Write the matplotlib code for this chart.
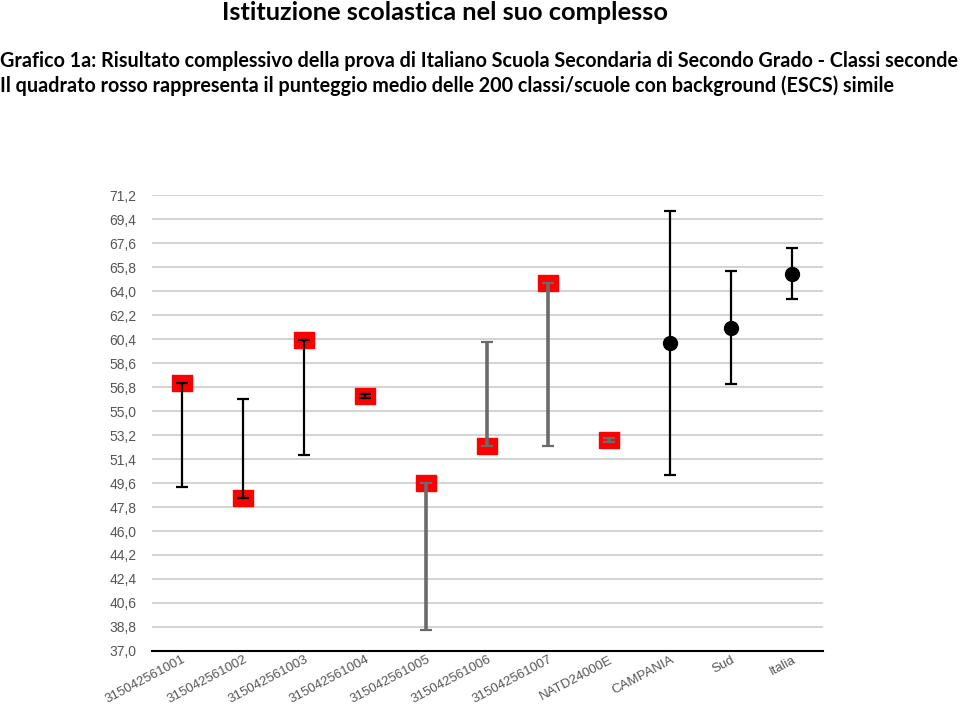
import numpy as np
import matplotlib
matplotlib.use('Agg')
from matplotlib import pyplot as plt

# dati
categorie = ['315042561001', '315042561002', '315042561003', '315042561004',
             '315042561005', '315042561006', '315042561007', 'NATD24000E',
             'CAMPANIA', 'Sud', 'Italia']
punto = [57.1, 48.5, 60.3, 56.1, 49.6, 52.4, 64.6, 52.8, 60.1, 61.2, 65.3]
basso = [49.3, 48.5, 51.7, 55.95, 38.6, 52.4, 52.4, 52.65, 50.2, 57.0, 63.4]
alto = [57.1, 55.9, 60.3, 56.25, 49.6, 60.2, 64.6, 52.95, 70.0, 65.5, 67.2]
tipo = ['q'] * 8 + ['c'] * 3   # q = quadrato rosso, c = cerchio nero
colore_barra = ['black', 'black', 'black', 'black',
                '#6b6b6b', '#6b6b6b', '#6b6b6b', '#6b6b6b',
                'black', 'black', 'black']

yticks = np.round(np.arange(37.0, 71.3, 1.8), 1)
ytick_labels = [f'{t:.1f}'.replace('.', ',') for t in yticks]

fig = plt.figure(figsize=(9.6, 7.11), dpi=100)
ax = fig.add_axes([0.158, 0.0844, 0.699, 0.6413])

x = np.arange(len(categorie))
rett = [(-1.25, -1), (1.25, -1), (1.25, 1), (-1.25, 1), (-1.25, -1)]

for i in range(len(categorie)):
    if tipo[i] == 'q':
        ax.plot(x[i], punto[i], marker=rett, markersize=14.5, color='#ff0000',
                markeredgecolor='#ff0000', linestyle='none', zorder=3)
    else:
        ax.plot(x[i], punto[i], marker='o', markersize=10, color='black',
                linestyle='none', zorder=5)
    mid = (alto[i] + basso[i]) / 2
    err = (alto[i] - basso[i]) / 2
    lw = 2.6 if colore_barra[i] != 'black' else 1.6
    _, caps, _ = ax.errorbar(x[i], mid, yerr=err, fmt='none', ecolor=colore_barra[i],
                             elinewidth=lw, capsize=4, capthick=1.6, zorder=4)
    for c in caps:
        c.set_color('#222222')

ax.set_xlim(-0.5, len(categorie) - 0.5)
ax.set_ylim(37.0, 71.2)
ax.set_yticks(yticks)
ax.set_yticklabels(ytick_labels, fontsize=10, color='#555555', family='Liberation Sans')
ax.set_xticks(x)
ax.set_xticklabels(categorie, rotation=28, ha='right', rotation_mode='anchor',
                   fontsize=9.5, color='#555555', family='Liberation Sans')
ax.tick_params(axis='y', length=0, pad=11)
ax.tick_params(axis='x', length=0, pad=2)

ax.grid(axis='y', color='#cccccc', linewidth=1.2)
ax.set_axisbelow(True)
for s in ['top', 'right', 'left']:
    ax.spines[s].set_visible(False)
ax.spines['bottom'].set_linewidth(1.5)
ax.spines['bottom'].set_color('black')

font_titoli = ['Lato', 'DejaVu Sans']
fig.text(0.4635, 0.983, 'Istituzione scolastica nel suo complesso', ha='center', va='center',
         fontsize=18.3, fontweight='bold', family=font_titoli)
fig.text(0.0, 0.914, 'Grafico 1a: Risultato complessivo della prova di Italiano Scuola Secondaria di Secondo Grado - Classi seconde',
         ha='left', va='center', fontsize=14.2, fontweight='bold', family=font_titoli)
fig.text(0.0, 0.880, 'Il quadrato rosso rappresenta il punteggio medio delle 200 classi/scuole con background (ESCS) simile',
         ha='left', va='center', fontsize=14.2, fontweight='bold', family=font_titoli)

fig.savefig('out.png', dpi=100)
